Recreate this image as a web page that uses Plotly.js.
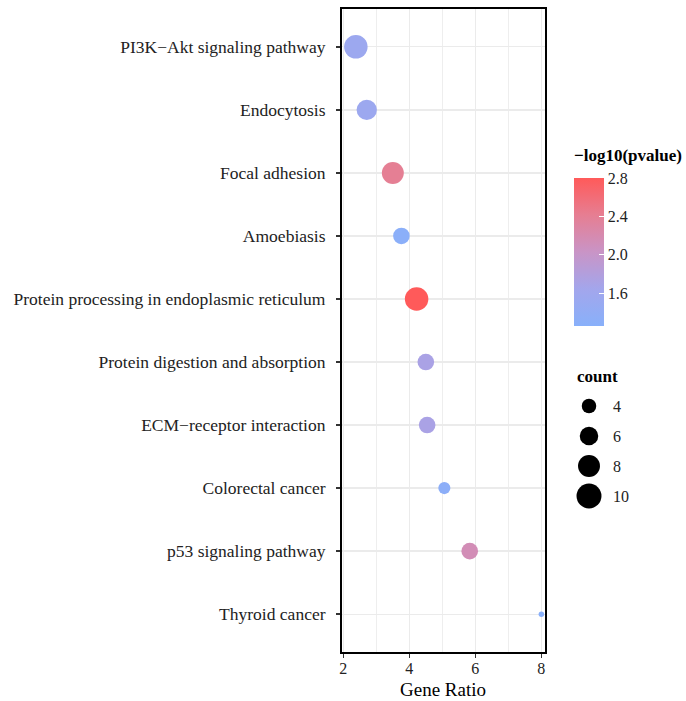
<!DOCTYPE html>
<html>
<head>
<meta charset="utf-8">
<script src="https://cdn.plot.ly/plotly-3.0.1.min.js"></script>
<style>html,body{margin:0;padding:0;background:#fff;}#chart{width:686px;height:701px;}</style>
</head>
<body>
<div id="chart"></div>
<script>
// ---- data ----
var pathways = [
  "PI3K\u2212Akt signaling pathway",
  "Endocytosis",
  "Focal adhesion",
  "Amoebiasis",
  "Protein processing in endoplasmic reticulum",
  "Protein digestion and absorption",
  "ECM\u2212receptor interaction",
  "Colorectal cancer",
  "p53 signaling pathway",
  "Thyroid cancer"
];
var geneRatio = [2.38, 2.71, 3.50, 3.76, 4.22, 4.50, 4.54, 5.06, 5.83, 8.00];
var counts    = [9, 7, 8, 5, 9, 5, 5, 3, 5, 1];
var negLogP   = [1.55, 1.55, 2.40, 1.30, 2.80, 1.72, 1.72, 1.32, 2.15, 1.27];
var legendCounts = [4, 6, 8, 10];
var xTicks = [2, 4, 6, 8];
var cbTicks = [1.6, 2.0, 2.4, 2.8];

// ---- styling helpers ----
function sizeOf(c) { return 9 * Math.sqrt(c) - 3.5; }
var cmin = 1.26, cmax = 2.8;
var scale = [[0, '#88B0FA'], [0.25, '#A3A6EC'], [0.5, '#C994C6'], [0.75, '#E67E92'], [1, '#FF5A5A']];
var serif = 'Liberation Serif, Times New Roman, serif';
var W = 686, H = 701;
function px(x) { return x / W; }
function py(y) { return 1 - y / H; }

var main = {
  type: 'scatter', mode: 'markers',
  x: geneRatio, y: pathways,
  xaxis: 'x', yaxis: 'y',
  marker: {
    size: counts.map(sizeOf), sizemode: 'diameter', opacity: 1,
    color: negLogP, colorscale: scale, cmin: cmin, cmax: cmax,
    line: {width: 0},
    showscale: true,
    colorbar: {
      x: px(574), xanchor: 'left', xref: 'paper',
      y: py(252), yanchor: 'middle', yref: 'paper',
      len: 148, lenmode: 'pixels', thickness: 30, thicknessmode: 'pixels',
      outlinewidth: 0, xpad: 0, ypad: 0,
      tickmode: 'array', tickvals: cbTicks, ticktext: cbTicks.map(function(v){return v.toFixed(1);}),
      ticks: 'inside', ticklen: 5, tickcolor: '#ffffff', tickwidth: 1,
      tickfont: {family: serif, size: 16, color: '#222'}
    }
  },
  hoverinfo: 'x+y', showlegend: false
};

var sizeLegend = {
  type: 'scatter', mode: 'markers',
  x: legendCounts.map(function(){ return 0; }),
  y: legendCounts.map(function(c, i){ return i; }),
  xaxis: 'x2', yaxis: 'y2',
  marker: {size: legendCounts.map(sizeOf), sizemode: 'diameter', opacity: 1, color: '#000', line: {width: 0}},
  hoverinfo: 'skip', showlegend: false
};

var annotations = legendCounts.map(function(c, i){
  return {xref: 'x2', yref: 'y2', x: 22, y: i, xanchor: 'left', yanchor: 'middle',
          text: String(c), showarrow: false, font: {family: serif, size: 16, color: '#222'}};
});
annotations.push({xref: 'paper', yref: 'paper', x: px(575), y: py(376), xanchor: 'left', yanchor: 'middle',
  text: '<b>count</b>', showarrow: false, font: {family: serif, size: 17, color: '#000'}});
annotations.push({xref: 'paper', yref: 'paper', x: px(572), y: py(155), xanchor: 'left', yanchor: 'middle',
  text: '<b>\u2212log10(pvalue)</b>', showarrow: false, font: {family: serif, size: 17, color: '#000'}});
annotations.push({xref: 'paper', yref: 'paper', x: px(443.5), y: 0, xanchor: 'center', yanchor: 'bottom',
  text: 'Gene Ratio', showarrow: false, borderpad: 0, font: {family: serif, size: 19, color: '#000'}});

var layout = {
  width: W, height: H,
  margin: {l: 0, r: 0, t: 0, b: 0, pad: 0},
  paper_bgcolor: '#fff', plot_bgcolor: '#fff',
  showlegend: false,
  xaxis: {
    domain: [px(342), px(545)],
    range: [1.96, 8.11],
    tickmode: 'array', tickvals: xTicks,
    showgrid: true, gridcolor: '#EBEBEB', gridwidth: 1.3,
    minor: {dtick: 1, tick0: 0, showgrid: true, gridcolor: '#EEEEEE', gridwidth: 1.1},
    zeroline: false,
    showline: true, linecolor: '#000', linewidth: 2, mirror: true,
    ticks: 'outside', ticklen: 4, tickwidth: 1.5, tickcolor: '#333',
    ticklabelstandoff: -3,
    tickfont: {family: serif, size: 16, color: '#222'},
    automargin: false, fixedrange: true
  },
  yaxis: {
    domain: [py(652), py(9)],
    type: 'category', categoryorder: 'array', categoryarray: pathways,
    range: [9.6, -0.6],
    showgrid: true, gridcolor: '#EBEBEB', gridwidth: 1.3,
    zeroline: false,
    showline: true, linecolor: '#000', linewidth: 2, mirror: true,
    ticks: 'outside', ticklen: 4, tickwidth: 1.5, tickcolor: '#333',
    ticklabelstandoff: 7,
    tickfont: {family: serif, size: 17.5, color: '#222'},
    automargin: false, fixedrange: true
  },
  xaxis2: {
    domain: [px(570), 1], range: [-19, 97], anchor: 'y2',
    visible: false, fixedrange: true
  },
  yaxis2: {
    domain: [py(511), py(391)], range: [3.5, -0.5], anchor: 'x2',
    visible: false, fixedrange: true
  },
  annotations: annotations
};

Plotly.newPlot('chart', [main, sizeLegend], layout, {displayModeBar: false, staticPlot: true});
</script>
</body>
</html>
